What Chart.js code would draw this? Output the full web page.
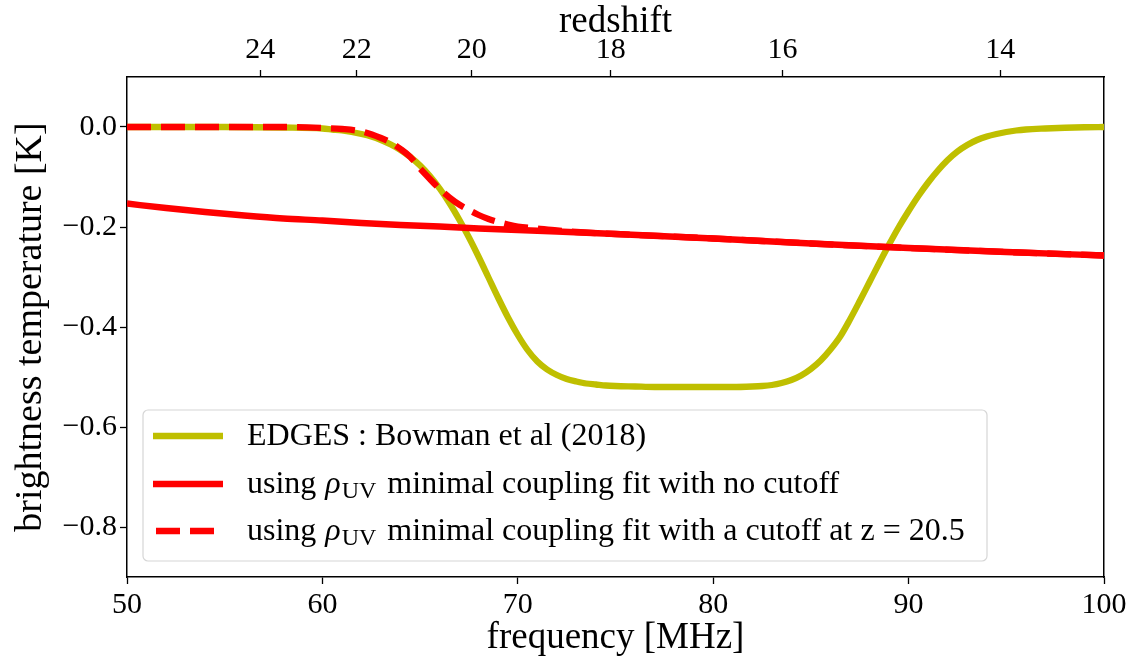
<!DOCTYPE html>
<html>
<head>
<meta charset="utf-8">
<script src="https://cdn.jsdelivr.net/npm/chart.js@4.4.1/dist/chart.umd.min.js"></script>
<style>
html,body{margin:0;padding:0;background:#ffffff;}
#wrap{width:1131px;height:660px;}
</style>
</head>
<body>
<div id="wrap"><canvas id="c" width="1131" height="660"></canvas></div>
<script>
// ---------- data ----------
const edgesFreq = [50, 55, 58, 60, 60.5, 61, 61.5, 62, 62.5, 63, 63.5, 64, 64.5, 65, 65.5, 66, 66.5, 67, 67.5, 68, 68.5, 69, 69.5, 70, 70.5, 71, 71.5, 72, 72.5, 73, 73.5, 74, 74.5, 75, 76, 77, 80, 81, 82, 82.5, 83, 83.5, 84, 84.5, 85, 85.5, 86, 86.5, 87, 87.5, 88, 88.5, 89, 89.5, 90, 90.5, 91, 91.5, 92, 92.5, 93, 93.5, 94, 94.5, 95, 95.5, 96, 97, 98, 99, 100];
const edgesTemp = [0.000, 0.000, -0.001, -0.003, -0.005, -0.007, -0.010, -0.014, -0.019, -0.026, -0.035, -0.046, -0.060, -0.077, -0.098, -0.123, -0.152, -0.185, -0.221, -0.260, -0.301, -0.342, -0.381, -0.416, -0.446, -0.469, -0.485, -0.496, -0.504, -0.509, -0.513, -0.515, -0.517, -0.518, -0.519, -0.520, -0.520, -0.520, -0.519, -0.518, -0.516, -0.512, -0.506, -0.497, -0.484, -0.467, -0.445, -0.419, -0.385, -0.348, -0.310, -0.272, -0.235, -0.200, -0.168, -0.138, -0.111, -0.087, -0.066, -0.049, -0.036, -0.026, -0.019, -0.014, -0.010, -0.007, -0.005, -0.003, -0.0015, -0.0005, 0.000];

const fitFreq = [50, 52, 54, 56, 58, 60, 62, 64, 66, 68, 70, 72, 75, 80, 85, 90, 95, 100];
const fitTemp = [-0.153, -0.162, -0.170, -0.177, -0.183, -0.187, -0.192, -0.196, -0.199, -0.203, -0.206, -0.209, -0.214, -0.223, -0.233, -0.242, -0.250, -0.257];

const cutFreq = [50, 55, 58, 60, 61, 62, 63, 63.5, 64, 64.5, 65, 65.5, 66, 66.5, 67, 67.5, 68, 68.5, 69, 69.5, 70, 71, 72, 73, 75, 80, 85, 90, 95, 100];
const cutTemp = [0.000, 0.000, 0.000, -0.002, -0.004, -0.009, -0.022, -0.031, -0.044, -0.060, -0.083, -0.104, -0.124, -0.141, -0.155, -0.166, -0.176, -0.184, -0.190, -0.195, -0.199, -0.203, -0.207, -0.210, -0.214, -0.223, -0.233, -0.242, -0.250, -0.257];

const freqTicks = [50, 60, 70, 80, 90, 100];
const redshiftTicks = [24, 22, 20, 18, 16, 14];
const tempTicks = [0.0, -0.2, -0.4, -0.6, -0.8];
const seriesLabels = [
  'EDGES : Bowman et al (2018)',
  'using ρ_UV minimal coupling fit with no cutoff',
  'using ρ_UV minimal coupling fit with a cutoff at z = 20.5'
];
const HI_REST_MHZ = 1420.4;

// ---------- styling ----------
const FONT = '"Liberation Serif", "DejaVu Serif", serif';
const TICK_SIZE = 30;
const TITLE_SIZE = 37;
const LEGEND_SIZE = 32;
const LW = 6.3;

function pts(xs, ys) { return xs.map((x, i) => ({x: x, y: ys[i]})); }

const tickGrid = {drawOnChartArea: false, drawTicks: true, tickLength: 7, tickColor: '#000', tickWidth: 1.3};
const border = {display: true, color: '#000', width: 1.5};

function minusFmt(v) {
  const r = Math.round(v * 10) / 10;
  return (r < 0 ? '\u2212' : '') + Math.abs(r).toFixed(1);
}

// custom legend with subscript support
const legendPlugin = {
  id: 'mplLegend',
  afterDraw(chart) {
    const ctx = chart.ctx;
    const x0 = 143, y0 = 410, w = 844, h = 151, r = 5;
    ctx.save();
    ctx.beginPath();
    ctx.moveTo(x0 + r, y0);
    ctx.arcTo(x0 + w, y0, x0 + w, y0 + h, r);
    ctx.arcTo(x0 + w, y0 + h, x0, y0 + h, r);
    ctx.arcTo(x0, y0 + h, x0, y0, r);
    ctx.arcTo(x0, y0, x0 + w, y0, r);
    ctx.closePath();
    ctx.fillStyle = 'rgba(255,255,255,0.85)';
    ctx.fill();
    ctx.strokeStyle = '#d6d6d6';
    ctx.lineWidth = 1.2;
    ctx.stroke();

    const rows = [436, 484, 531];
    chart.data.datasets.forEach((ds, i) => {
      const yy = rows[i];
      const dashed = ds.borderDash && ds.borderDash.length;
      ctx.beginPath();
      ctx.setLineDash(ds.borderDash || []);
      ctx.strokeStyle = ds.borderColor;
      ctx.lineWidth = ds.borderWidth;
      ctx.lineCap = 'butt';
      ctx.moveTo(dashed ? 156 : 153, yy);
      ctx.lineTo(223, yy);
      ctx.stroke();
      ctx.setLineDash([]);
      drawRich(ctx, ds.label, 247, yy + 1);
    });
    ctx.restore();
  }
};

function drawRich(ctx, label, x, y) {
  ctx.fillStyle = '#000';
  ctx.textBaseline = 'middle';
  ctx.textAlign = 'left';
  const parts = label.split('ρ_UV');
  let cx = x;
  parts.forEach((p, k) => {
    if (k > 0) {
      ctx.font = 'italic ' + LEGEND_SIZE + 'px ' + FONT;
      ctx.fillText('ρ', cx + 1, y);
      cx += ctx.measureText('ρ').width + 2;
      ctx.font = Math.round(LEGEND_SIZE * 0.74) + 'px ' + FONT;
      ctx.fillText('UV', cx, y + 7);
      cx += ctx.measureText('UV').width + 3;
    }
    ctx.font = LEGEND_SIZE + 'px ' + FONT;
    ctx.fillText(p, cx, y);
    cx += ctx.measureText(p).width;
  });
}

const cfg = {
  type: 'line',
  data: {
    datasets: [
      {label: seriesLabels[0], data: pts(edgesFreq, edgesTemp), borderColor: '#bfbf00', borderWidth: LW,
       pointRadius: 0, fill: false, cubicInterpolationMode: 'monotone', order: 3},
      {label: seriesLabels[1], data: pts(fitFreq, fitTemp), borderColor: '#ff0000', borderWidth: LW,
       pointRadius: 0, fill: false, cubicInterpolationMode: 'monotone', order: 2},
      {label: seriesLabels[2], data: pts(cutFreq, cutTemp), borderColor: '#ff0000', borderWidth: LW,
       borderDash: [24, 10], pointRadius: 0, fill: false, cubicInterpolationMode: 'monotone', order: 1}
    ]
  },
  options: {
    responsive: false,
    animation: false,
    devicePixelRatio: 1,
    layout: {padding: 0},
    plugins: {legend: {display: false}, tooltip: {enabled: false}},
    scales: {
      x: {
        type: 'linear', position: 'bottom', min: 50, max: 100,
        afterBuildTicks: s => { s.ticks = freqTicks.map(v => ({value: v})); },
        afterFit: s => { s.height = 83; },
        ticks: {autoSkip: false, maxRotation: 0, padding: 3, color: '#000',
                font: {family: FONT, size: TICK_SIZE}, callback: v => String(v)},
        grid: tickGrid, border: border,
        title: {display: true, text: 'frequency [MHz]', color: '#000',
                font: {family: FONT, size: TITLE_SIZE}, padding: {top: 0, bottom: 0}}
      },
      xTop: {
        type: 'linear', position: 'top', min: 50, max: 100,
        afterBuildTicks: s => { s.ticks = redshiftTicks.map(z => ({value: HI_REST_MHZ / (1 + z)})); },
        afterFit: s => { s.height = 77; },
        ticks: {autoSkip: false, maxRotation: 0, padding: 2, color: '#000',
                font: {family: FONT, size: TICK_SIZE}, callback: (v, i) => String(redshiftTicks[i])},
        grid: tickGrid, border: border,
        title: {display: true, text: 'redshift', color: '#000',
                font: {family: FONT, size: TITLE_SIZE}, padding: {top: 0, bottom: 0}}
      },
      y: {
        type: 'linear', position: 'left', min: -0.9, max: 0.1,
        afterBuildTicks: s => { s.ticks = tempTicks.map(v => ({value: v})); },
        afterFit: s => { s.width = 127; },
        ticks: {autoSkip: false, padding: 3, color: '#000',
                font: {family: FONT, size: TICK_SIZE}, callback: v => minusFmt(v)},
        grid: tickGrid, border: border,
        title: {display: true, text: 'brightness temperature [K]', color: '#000',
                font: {family: FONT, size: 38}, padding: {top: 8, bottom: 0}}
      },
      yRight: {
        type: 'linear', position: 'right', min: -0.9, max: 0.1,
        afterFit: s => { s.width = 27; },
        ticks: {display: false},
        grid: {display: false, drawTicks: false},
        border: border
      }
    }
  },
  plugins: [legendPlugin]
};

new Chart(document.getElementById('c'), cfg);
</script>
</body>
</html>
